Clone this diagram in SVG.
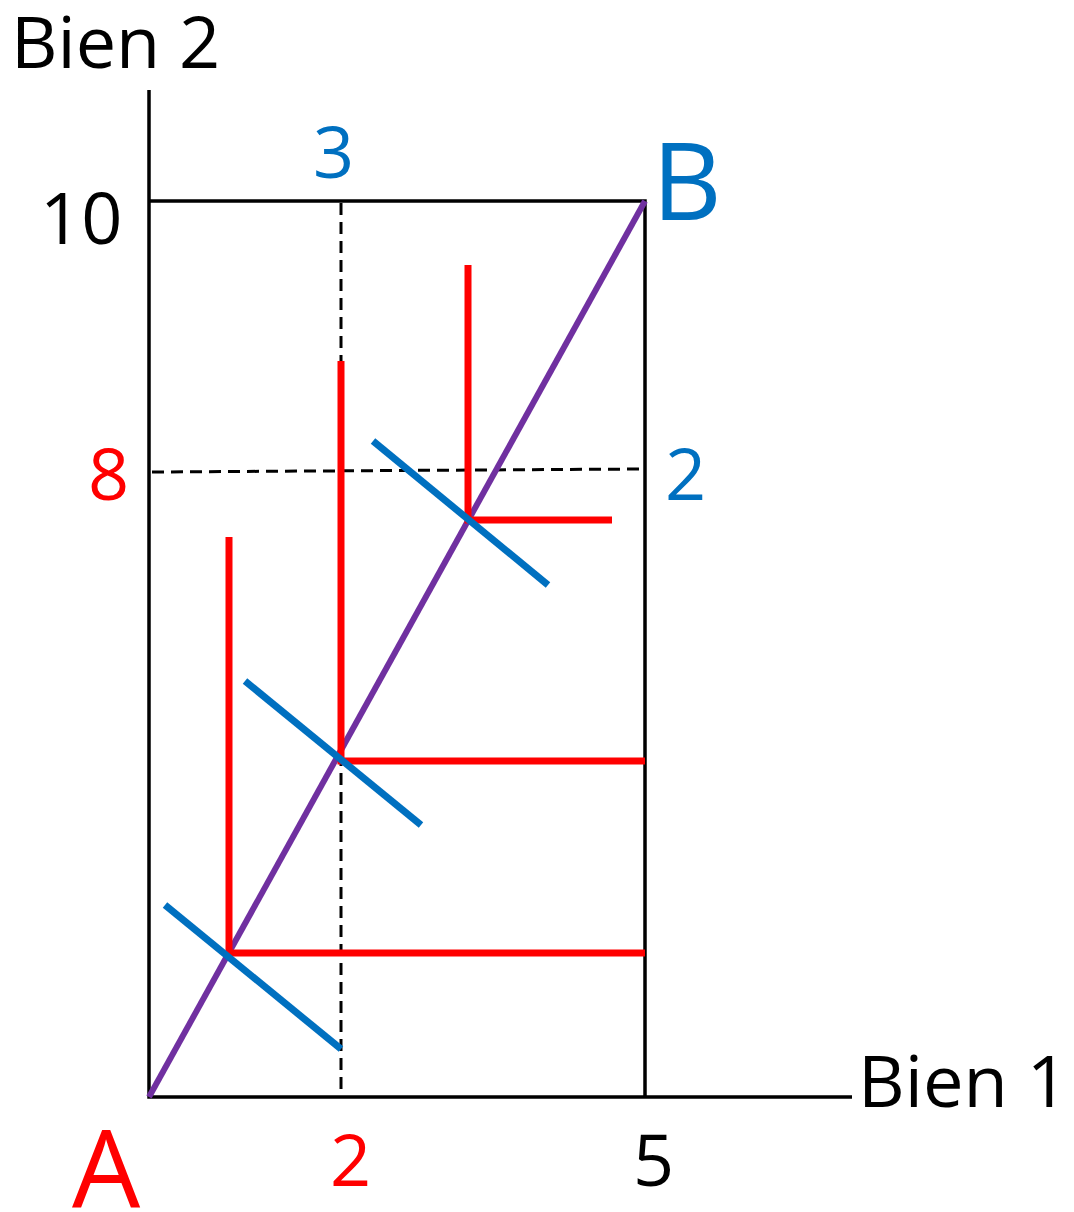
<svg xmlns="http://www.w3.org/2000/svg" width="1074" height="1212" viewBox="0 0 1074 1212">
<style>
text{font-family:"Open Sans","Liberation Sans",sans-serif;font-size:72px}
.k{fill:#000}.r{fill:#ff0000}.b{fill:#0070c0}
.ax{stroke:#000;stroke-width:3.5;fill:none}
.dash{stroke:#000;stroke-width:3;stroke-dasharray:12 7;fill:none}
.red{stroke:#ff0000;stroke-width:7;fill:none}
.blue{stroke:#0070c0;stroke-width:7;fill:none}
.pur{stroke:#7030a0;stroke-width:6;fill:none}
</style>
<rect width="1074" height="1212" fill="#fff"/>
<g id="axes">
<polyline class="ax" points="149,90 149,1097 852,1097"/>
<polyline class="ax" points="149,201 645,201 645,1097"/>
<line class="dash" x1="341" y1="203" x2="341" y2="1095"/>
<line class="dash" x1="152" y1="472" x2="643" y2="469"/>
</g>
<g id="contract">
<line class="pur" x1="149" y1="1097" x2="645" y2="201"/>
</g>
<g id="indifference-A">
<polyline class="red" points="229,537 229,953 645,953"/>
<polyline class="red" points="341,361 341,761 645,761"/>
<polyline class="red" points="468,265 468,520 612,520"/>
</g>
<g id="indifference-B">
<line class="blue" x1="165" y1="905" x2="341" y2="1049"/>
<line class="blue" x1="245" y1="681" x2="421" y2="825"/>
<line class="blue" x1="373" y1="441" x2="548" y2="585"/>
</g>
<g id="labels">
<text class="k" x="11" y="68">Bien 2</text>
<text class="k" x="40" y="244">10</text>
<text class="b" x="313" y="178">3</text>
<text class="b" x="652" y="220" style="font-size:108px">B</text>
<text class="r" x="88" y="500">8</text>
<text class="b" x="665" y="500">2</text>
<text class="r" x="72" y="1208" style="font-size:108px">A</text>
<text class="r" x="330" y="1186">2</text>
<text class="k" x="633" y="1186">5</text>
<text class="k" x="858" y="1107" textLength="210" lengthAdjust="spacingAndGlyphs">Bien 1</text>
</g>
</svg>
